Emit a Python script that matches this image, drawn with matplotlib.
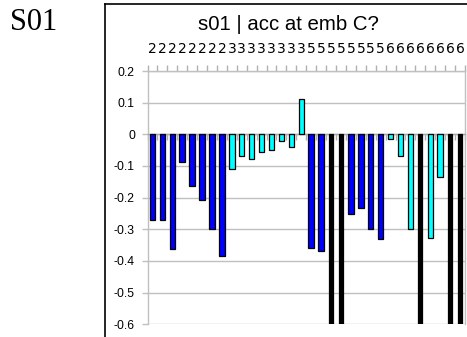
import matplotlib
matplotlib.use("Agg")
import matplotlib.pyplot as plt
from matplotlib.lines import Line2D
import numpy as np

# Category codes shown along the top axis
codes = ["2"] * 8 + ["3"] * 8 + ["5"] * 8 + ["6"] * 8

# Accuracy change per item (values below -0.6 run off the axis)
values = [-0.27, -0.27, -0.362, -0.086, -0.162, -0.206, -0.30, -0.383,
          -0.108, -0.070, -0.077, -0.057, -0.049, -0.020, -0.041, 0.112,
          -0.359, -0.370, -0.65, -0.65, -0.252, -0.233, -0.298, -0.330,
          -0.016, -0.068, -0.298, -0.65, -0.329, -0.136, -0.65, -0.65]

# Bar fill group: b = blue, c = cyan, k = black
groups = list("bbbbbbbb" "cccccccc" "bbkkbbbb" "ccckcckk")

palette = {"b": "#0000ff", "c": "#00ffff", "k": "#000000"}

W, H, DPI = 467, 337, 100
fig = plt.figure(figsize=(W / DPI, H / DPI), dpi=DPI)
fig.patch.set_facecolor("white")

left_px, right_px, top_px, bot_px = 147.5, 465.0, 71.0, 324.3
ax = fig.add_axes([left_px / W, 1 - bot_px / H,
                   (right_px - left_px) / W, (bot_px - top_px) / H])

x = np.arange(len(values))
widths = [0.42 if g == "k" else 0.55 for g in groups]
ax.bar(x, values, width=widths, color=[palette[g] for g in groups],
       edgecolor="black", linewidth=0.9, zorder=3)

ax.set_xlim(-0.5, len(values) - 0.5)
ax.set_ylim(-0.6, 0.2)

grid_c = "#c0c0c0"
ax.set_yticks(np.round(np.arange(-0.6, 0.21, 0.1), 1))
ax.set_yticklabels(["-0.6", "-0.5", "-0.4", "-0.3", "-0.2", "-0.1", "0", "0.1", "0.2"],
                   fontsize=8.7, family="Liberation Sans")
ax.yaxis.grid(True, color=grid_c, linewidth=1.0, zorder=0)
ax.set_axisbelow(True)
ax.tick_params(axis="y", length=4.5, width=1.0, color=grid_c, pad=4.5)

# category labels along the top, boundary ticks at top and at the zero line
ax.xaxis.tick_top()
ax.set_xticks(x)
ax.set_xticklabels(codes, fontsize=9, family="Liberation Sans")
ax.set_xticks(np.arange(-0.5, len(values)), minor=True)
ax.tick_params(axis="x", which="major", length=0, pad=10.5)
ax.tick_params(axis="x", which="minor", top=True, bottom=True,
               length=4.5, width=1.0, color="#b0b0b0", direction="out")

for s in ["left", "right", "top", "bottom"]:
    ax.spines[s].set_color(grid_c)
    ax.spines[s].set_linewidth(1.0)
ax.spines["bottom"].set_position(("data", 0))
ax.spines["bottom"].set_color("#a8a8a8")

# chart title, centred on the chart frame
fig.text(288 / W, 1 - 24 / H, "s01 | acc at emb C?", fontsize=14.7,
         family="Liberation Sans", ha="center", va="center")

# panel label and frame
fig.text(10 / W, 1 - 23 / H, "S01", fontsize=22, family="Liberation Serif",
         ha="left", va="center")
fig.add_artist(Line2D([105 / W, 1.0], [1 - 3.5 / H, 1 - 3.5 / H],
                      color="black", linewidth=1.2, transform=fig.transFigure))
fig.add_artist(Line2D([105 / W, 105 / W], [0.0, 1 - 3.5 / H],
                      color="black", linewidth=1.2, transform=fig.transFigure))

fig.savefig("out.png", dpi=DPI, facecolor="white")
